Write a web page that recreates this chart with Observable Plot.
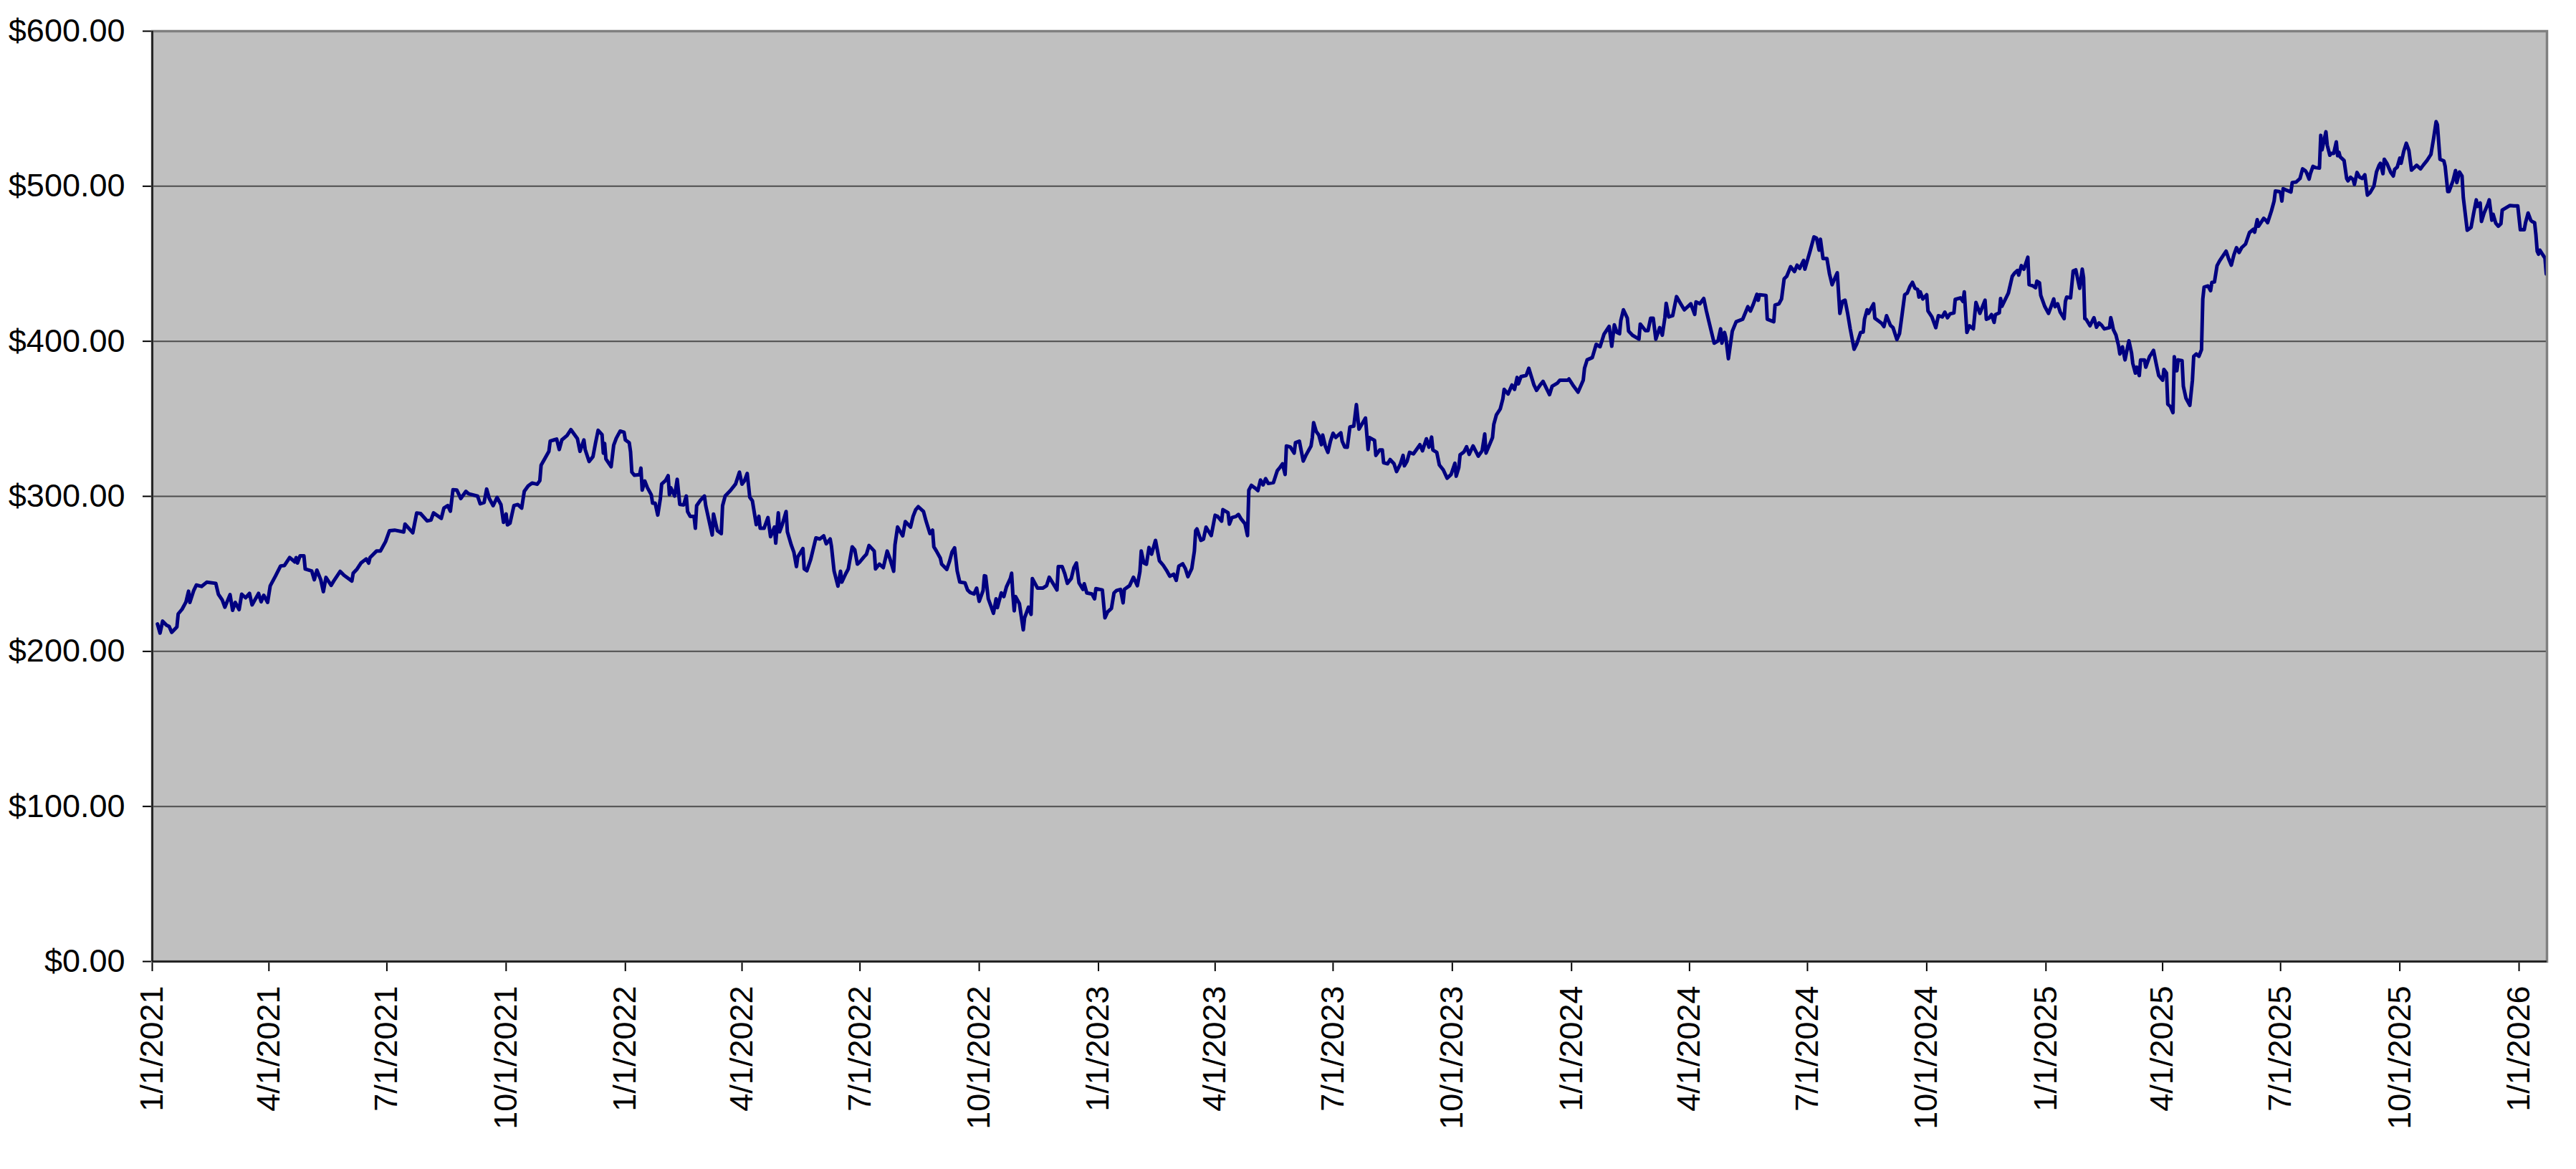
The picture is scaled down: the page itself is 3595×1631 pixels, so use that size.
<!DOCTYPE html>
<html>
<head>
<meta charset="utf-8">
<script src="https://cdn.jsdelivr.net/npm/d3@7"></script>
<script src="https://cdn.jsdelivr.net/npm/@observablehq/plot@0.6"></script>
<style>
  html, body { margin: 0; padding: 0; background: #ffffff; overflow: hidden; }
  #chart svg [aria-label="x-axis tick"], #chart svg [aria-label="y-axis tick"] { stroke-width: 2px; }
</style>
</head>
<body>
<div id="chart"></div>
<script>
// Day offsets are counted from the first date below; values are share prices in dollars.
const startDate = "2021-01-01";

const days2021 = [4,6,8,11,13,15,19,20,23,26,28,29,32,34,38,42,49,51,54,56,60,62,64,67,69,72,75,77,82,84,86,89,91,95,99,102,106,110,111,112,114,117,118,123,125,127,130,132,134,138,140,145,148,154,155,158,161,165,167,168,173,176,180,183,187,194,195,201,204,207,212,215,217,223,225,228,230,232,235,238,242,244,251,253,256,258,260,263,266,269,271,273,274,276,279,282,285,287,290,293,297,299,300,306,307,310,312,314,316,320,323,326,328,330,333,334,337,340,342,344,347,348,349,350,354,356,358,361,364];
const price2021 = [217.7,211.8,219.5,216.9,216.1,212.3,215.7,224.2,227.2,231.9,238.8,231.6,239.3,242.8,241.9,244.6,243.9,236.9,233.1,228.5,236.6,226.5,231.6,226.9,236.9,234.6,237.4,230.0,237.4,232.0,236.2,231.6,242.3,248.5,255.1,255.4,260.5,257.7,260.5,257.0,261.6,261.6,253.1,251.9,246.2,252.4,246.2,238.5,247.7,242.6,245.4,251.6,249.0,245.4,250.4,253.1,257.0,259.6,257.0,260.5,264.7,264.7,270.8,277.8,278.2,277.0,282.1,276.5,289.3,288.9,284.2,284.7,289.3,285.8,292.4,294.0,290.4,304.3,304.0,298.6,303.2,301.7,300.1,295.2,296.0,304.7,298.6,294.0,299.3,294.7,283.2,288.6,281.6,282.7,294.0,294.7,292.4,303.2,306.7,308.6,307.8,310.1,320.1,329.0,335.6,336.4,336.9,330.2,336.4,339.2,343.0,339.5,337.2,329.0,336.4,330.2,322.5,325.6,334.5,342.6,339.8,327.9,334.1,324.1,319.1,333.0,337.5,342.1,341.3];

const days2022 = [365,368,369,370,372,376,377,378,380,382,385,386,388,390,392,393,396,398,399,400,403,405,407,410,412,413,415,418,419,420,423,426,427,432,433,436,439,440,442,446,450,453,455,457,459,461,463,466,468,469,472,475,477,480,481,483,484,486,489,490,493,495,497,498,502,503,505,508,512,515,518,520,523,524,526,529,531,532,535,537,540,542,544,546,549,551,553,557,558,561,564,567,569,572,573,575,579,581,585,587,589,591,595,597,600,602,603,605,608,609,613,615,617,619,621,623,627,629,631,634,636,638,641,642,643,645,647,649,651,652,655,657,659,662,663,664,665,666,669,672,673,676,678,679,683,687,690,692,696,698,699,702,704,706,709,711,713,715,718,719,721,725,727,728];
const price2022 = [336.4,334.5,328.7,315.6,313.6,314.0,318.2,304.0,309.9,305.6,301.0,295.6,295.6,287.9,298.6,307.9,310.2,313.3,301.0,305.6,300.2,311.0,294.8,294.5,300.2,290.2,287.1,287.1,279.4,294.0,297.6,300.2,294.0,275.1,288.6,277.8,276.0,294.0,300.2,303.7,307.9,315.6,307.9,310.2,314.8,299.4,297.1,281.7,287.1,279.4,279.4,286.3,274.0,280.2,269.8,289.4,277.1,281.7,290.2,277.1,268.6,264.0,254.7,260.9,266.3,253.2,252.0,259.4,273.2,272.5,274.5,269.4,272.5,267.8,252.0,242.1,251.7,244.7,250.1,253.2,267.4,265.5,256.3,257.8,260.9,262.7,268.3,264.7,253.2,256.3,254.0,264.7,260.1,251.7,268.6,280.2,274.5,283.7,280.2,287.1,291.4,293.3,290.2,284.0,276.0,278.2,267.4,264.7,260.1,256.3,252.9,257.8,264.0,266.8,251.9,244.7,244.2,239.6,238.0,237.0,240.8,232.3,239.3,248.8,248.5,233.9,229.3,224.6,233.9,228.2,237.7,235.4,241.6,247.0,250.4,236.2,226.2,235.4,230.8,213.9,221.6,228.5,223.9,247.0,240.8,240.8,242.4,247.8,242.4,239.6,254.7,254.7,250.1,243.9,247.0,253.9,257.0,244.2,240.0,243.6,237.7,237.0,233.9,240.5];

const days2023 = [733,735,737,740,742,744,747,749,750,754,757,760,762,763,765,767,769,771,774,777,780,783,785,788,790,792,795,797,799,802,804,805,806,809,811,813,817,820,822,825,826,830,831,833,836,838,840,843,845,846,848,851,853,855,857,859,861,865,868,870,872,874,875,878,881,882,885,888,890,894,895,896,898,900,902,903,905,907,909,911,913,917,918,920,922,924,927,929,931,936,938,939,943,944,947,949,950,953,955,958,960,963,965,966,968,970,973,978,980,983,985,987,988,991,993,996,999,1002,1005,1006,1008,1009,1012,1014,1016,1019,1023,1026,1028,1029,1034,1035,1037,1040,1042,1043,1046,1049,1051,1053,1054,1056,1060,1062,1064,1066,1068,1071,1073,1078,1080,1084,1086,1092,1093];
const price2023 = [239.6,221.6,225.4,227.7,237.7,239.3,240.0,231.3,240.0,242.4,247.8,242.4,251.6,264.7,257.0,256.2,267.0,262.7,271.6,258.5,255.5,251.6,248.5,249.8,245.8,255.0,256.5,253.5,248.2,253.5,264.7,277.8,279.0,271.6,272.4,280.1,274.7,287.8,287.0,284.0,291.4,289.4,282.1,286.3,287.0,288.3,285.5,282.4,274.7,304.0,307.1,305.2,303.7,310.5,307.4,311.4,308.3,308.9,316.6,318.6,321.0,314.1,332.5,331.8,327.9,334.6,335.6,322.8,326.4,332.5,338.0,347.5,341.8,339.5,333.3,339.5,332.5,328.4,335.6,340.7,338.0,341.0,335.6,331.8,331.7,344.8,345.3,359.2,343.3,350.5,330.2,337.9,336.1,326.4,329.9,329.9,321.7,321.0,323.7,321.0,316.0,321.0,326.4,319.7,322.5,328.4,327.4,333.3,329.4,337.1,331.7,338.2,329.9,328.4,320.2,317.1,311.7,314.0,321.3,313.0,318.6,326.8,328.7,332.0,327.1,332.5,325.9,329.4,340.2,327.9,337.9,346.4,352.5,356.4,362.9,369.0,366.0,371.8,369.0,376.7,372.6,377.2,378.0,382.6,377.2,371.8,368.4,372.1,374.1,365.6,371.0,373.0,374.9,374.9,375.7];

const days2024 = [1096,1100,1104,1105,1107,1111,1114,1117,1120,1124,1126,1128,1130,1132,1133,1135,1138,1139,1142,1147,1148,1152,1154,1156,1158,1160,1163,1165,1167,1168,1170,1173,1176,1179,1182,1187,1190,1191,1194,1197,1199,1201,1205,1208,1210,1211,1213,1214,1216,1219,1222,1227,1231,1233,1235,1238,1239,1240,1245,1246,1251,1252,1255,1257,1259,1261,1264,1267,1269,1271,1274,1275,1279,1282,1284,1286,1287,1289,1292,1294,1296,1299,1300,1302,1304,1306,1308,1310,1313,1315,1318,1320,1321,1323,1324,1328,1329,1334,1336,1338,1341,1343,1346,1348,1350,1352,1354,1356,1358,1360,1362,1363,1364,1366,1369,1370,1373,1376,1378,1381,1383,1385,1387,1390,1391,1395,1397,1398,1400,1402,1405,1407,1410,1414,1415,1417,1419,1421,1422,1425,1426,1427,1432,1435,1437,1439,1440,1442,1444,1447,1448,1451,1453,1454,1456,1457,1460];
const price2024 = [371.8,367.2,374.9,382.6,388.0,389.5,398.0,396.5,404.5,409.6,396.8,410.6,405.7,404.9,413.4,420.3,415.0,406.5,403.9,401.4,411.1,406.9,406.9,414.9,414.9,401.4,408.8,403.9,415.3,424.5,415.7,416.5,428.8,424.5,420.3,424.2,417.3,425.4,424.2,427.6,419.6,412.6,398.8,400.3,408.0,398.8,405.7,402.6,388.8,406.5,412.6,414.2,422.3,419.5,423.4,430.3,426.5,430.0,429.6,414.2,412.6,423.4,424.2,427.3,440.3,441.9,448.1,445.0,449.1,447.0,452.2,446.5,458.1,467.3,466.5,458.8,465.8,453.4,453.4,443.4,436.5,442.4,444.2,418.0,425.7,426.5,418.0,408.0,394.9,398.3,405.7,406.0,414.2,420.3,418.0,424.2,414.9,411.8,409.5,416.5,410.3,408.8,401.1,404.9,417.2,430.0,431.1,435.3,438.0,434.2,433.4,428.5,431.9,427.3,430.0,419.5,415.7,408.8,416.5,415.7,418.8,415.2,417.7,418.3,427.0,428.0,425.7,431.9,405.7,410.0,408.0,425.0,418.0,426.5,414.2,414.9,417.2,412.2,417.2,418.3,427.6,422.6,431.1,441.9,444.2,445.7,442.7,448.8,446.5,454.2,436.5,435.7,434.6,438.8,437.7,429.6,422.6];

const days2025 = [1463,1465,1467,1468,1470,1472,1475,1476,1477,1480,1482,1484,1487,1489,1490,1491,1492,1495,1498,1500,1502,1504,1506,1510,1511,1512,1513,1515,1517,1518,1520,1522,1524,1525,1527,1528,1530,1531,1533,1534,1537,1538,1541,1542,1544,1546,1548,1551,1552,1554,1555,1557,1559,1560,1562,1563,1566,1567,1569,1572,1574,1575,1577,1579,1581,1582,1583,1586,1588,1589,1591,1593,1595,1600,1602,1604,1606,1608,1610,1612,1615,1618,1621,1622,1624,1625,1629,1631,1632,1635,1637,1638,1641,1642,1643,1644,1647,1650,1651,1654,1657,1659,1661,1662,1664,1665,1667,1669,1672,1673,1674,1677,1678,1680,1681,1683,1685,1686,1687,1688,1691,1693,1694,1696,1698,1699,1701,1703,1705,1707,1709,1711,1714,1716,1718,1719,1721,1722,1724,1727,1729,1730,1732,1734,1735,1737,1739,1741,1743,1747,1750,1752,1755,1758,1760,1762,1763,1765,1768,1769,1771,1772,1775,1777,1778,1780,1782,1783,1786,1789,1791,1793,1794,1796,1797,1799,1802,1803,1805,1806,1808,1810,1812,1813,1816,1819,1822,1825];
const price2025 = [418.0,422.6,427.3,422.3,424.2,418.8,414.6,425.7,428.5,428.0,445.4,446.1,434.2,446.5,441.1,414.6,414.2,410.0,415.2,409.1,411.8,410.3,408.0,408.8,415.2,411.8,407.5,404.1,397.2,391.8,396.4,388.0,396.4,400.3,392.6,385.7,379.5,383.3,377.9,388.0,388.0,383.3,390.3,391.5,394.1,385.7,377.9,374.9,381.8,379.5,359.4,357.9,354.0,390.0,381.0,388.0,387.5,371.0,363.3,358.7,374.9,390.3,391.8,390.3,394.6,427.2,434.9,435.7,432.6,438.0,438.3,448.8,451.9,458.1,453.1,449.1,455.7,460.4,457.3,460.4,462.7,470.1,472.2,470.4,478.4,474.2,479.3,477.8,476.5,484.2,490.4,496.9,496.6,495.8,490.4,498.4,497.3,496.3,502.4,502.7,505.0,511.2,510.1,508.9,504.6,508.1,512.8,512.0,511.7,532.8,523.5,535.1,526.6,520.0,521.2,521.2,528.6,519.7,522.0,518.9,516.6,505.0,503.5,505.8,504.3,501.2,508.9,505.8,505.0,507.4,494.3,495.8,500.0,509.2,513.5,514.8,508.1,517.4,514.8,508.9,506.6,510.8,512.3,518.1,514.8,522.5,527.7,523.1,510.4,513.5,511.2,513.5,516.6,520.5,530.5,541.6,539.7,517.4,516.3,512.8,496.6,496.6,503.5,510.1,502.4,509.2,506.6,492.7,471.6,473.5,482.7,491.2,487.0,489.2,477.3,482.7,488.6,491.2,478.1,481.9,476.2,474.2,475.8,484.6,486.1,487.6,487.3,487.3];

const days2026 = [1827,1830,1831,1833,1835,1836,1838,1839,1840,1841,1842,1844,1846,1847];
const price2026 = [471.9,471.9,476.5,482.7,478.1,477.3,476.5,468.8,458.1,456.2,458.8,456.2,453.7,443.4];

const xTickDates = ["2021-01-01","2021-04-01","2021-07-01","2021-10-01","2022-01-01","2022-04-01","2022-07-01","2022-10-01","2023-01-01","2023-04-01","2023-07-01","2023-10-01","2024-01-01","2024-04-01","2024-07-01","2024-10-01","2025-01-01","2025-04-01","2025-07-01","2025-10-01","2026-01-01"];
const yTicks = [0, 100, 200, 300, 400, 500, 600];
const xEndDate = "2026-01-22T13:00:00Z";

// Build the table Plot needs
const base = new Date(startDate + "T00:00:00Z");
const allDays = [].concat(days2021, days2022, days2023, days2024, days2025, days2026);
const allPrices = [].concat(price2021, price2022, price2023, price2024, price2025, price2026);
const data = allDays.map((d, i) => ({date: d3.utcDay.offset(base, d), price: allPrices[i]}));

const tickDates = xTickDates.map(s => new Date(s + "T00:00:00Z"));
const xDomain = [base, new Date(xEndDate)];

const fmtDate = d => `${d.getUTCMonth() + 1}/${d.getUTCDate()}/${d.getUTCFullYear()}`;
const fmtMoney = v => "$" + v.toFixed(2);

const chart = Plot.plot({
  width: 3595,
  height: 1631,
  marginLeft: 212,
  marginRight: 41,
  marginTop: 43,
  marginBottom: 290,
  style: {
    fontFamily: "'Liberation Sans', Arial, Helvetica, sans-serif",
    fontSize: "45px",
    background: "#ffffff",
    color: "#000000"
  },
  x: {
    type: "utc",
    domain: xDomain,
    ticks: tickDates,
    tickFormat: fmtDate,
    tickRotate: -90,
    tickSize: 14,
    tickPadding: 20,
    label: null
  },
  y: {
    domain: [0, 600],
    ticks: yTicks,
    tickFormat: fmtMoney,
    tickSize: 13,
    tickPadding: 25,
    label: null
  },
  marks: [
    Plot.frame({fill: "#C0C0C0", stroke: null}),
    Plot.ruleY(yTicks.filter(v => v > 0 && v < 600), {stroke: "#4d4d4d", strokeWidth: 2}),
    Plot.line(data, {x: "date", y: "price", stroke: "#000080", strokeWidth: 5, strokeLinejoin: "round"}),
    Plot.frame({stroke: "#808080", strokeWidth: 3.5}),
    Plot.ruleX([xDomain[0]], {stroke: "#1a1a1a", strokeWidth: 2.5}),
    Plot.ruleY([0], {stroke: "#1a1a1a", strokeWidth: 2.5})
  ]
});

document.getElementById("chart").appendChild(chart);
</script>
</body>
</html>
